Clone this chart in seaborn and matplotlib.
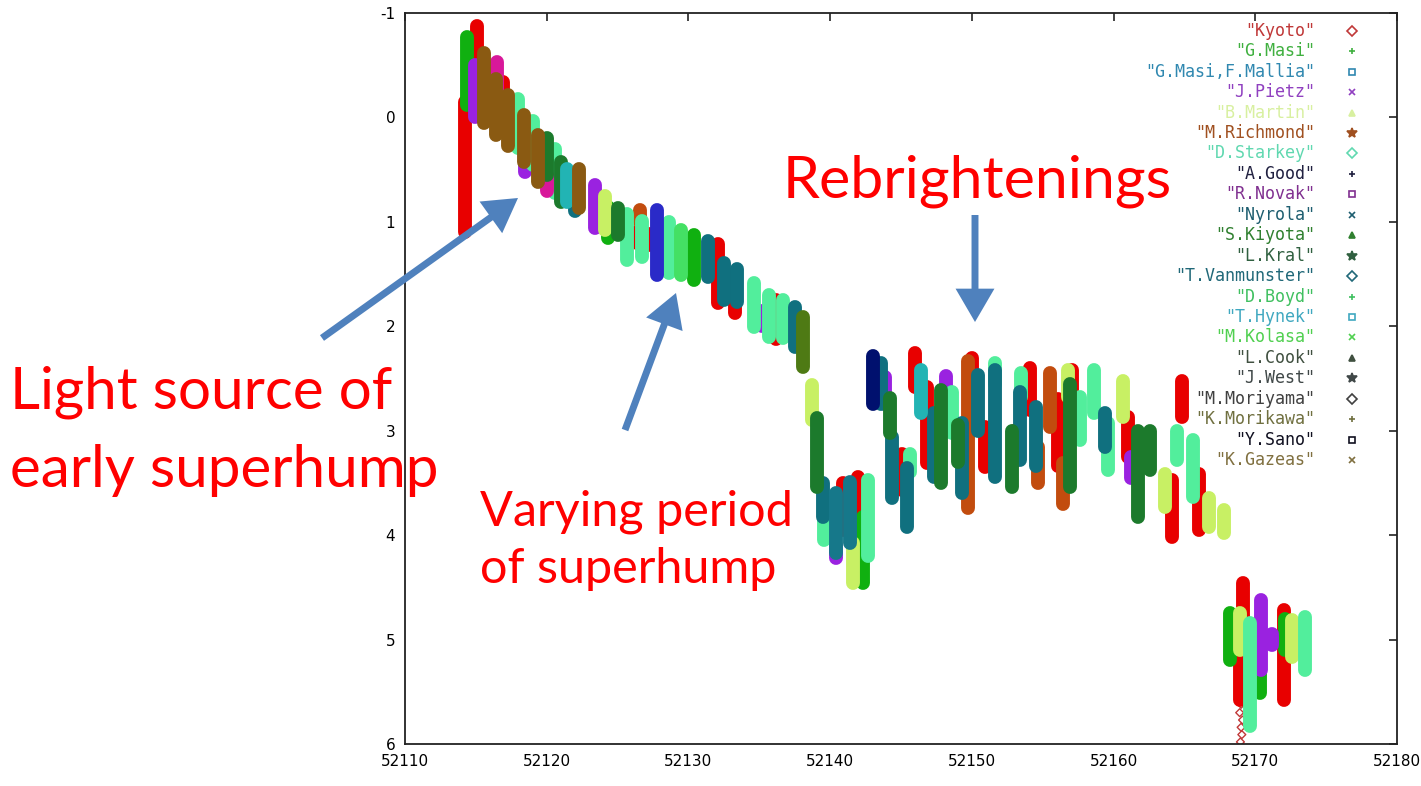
import matplotlib
matplotlib.use("Agg")
import matplotlib.pyplot as plt
from matplotlib.patches import FancyArrowPatch
import seaborn as sns
import pandas as pd

# ---------------- data ----------------
observers = ["Kyoto", "G.Masi", "G.Masi,F.Mallia", "J.Pietz", "B.Martin", "M.Richmond",
             "D.Starkey", "A.Good", "R.Novak", "Nyrola", "S.Kiyota", "L.Kral",
             "T.Vanmunster", "D.Boyd", "T.Hynek", "M.Kolasa", "L.Cook", "J.West",
             "M.Moriyama", "K.Morikawa", "Y.Sano", "K.Gazeas"]
legend_markers = ["D", "+", "s", "x", "^", "*", "D", "+", "s", "x", "^", "*",
                  "D", "+", "s", "x", "^", "*", "D", "+", "s", "x"]

# observing runs: time (JD-2400000), brightest and faintest magnitude, observer
run_day = [52114.2, 52114.4, 52114.95, 52115.1, 52115.6, 52116.5, 52116.4, 52116.9,
           52117.3, 52118.0, 52118.4, 52118.5, 52119.0, 52119.4, 52120.0, 52120.0,
           52120.6, 52121.0, 52121.4, 52122.0, 52122.3, 52123.4, 52124.1, 52124.3,
           52125.0, 52125.7, 52126.4, 52126.6, 52126.7, 52127.2, 52127.8, 52128.6,
           52129.5, 52130.4, 52131.4, 52132.1, 52132.5, 52133.3, 52133.4, 52134.6,
           52135.2, 52135.7, 52136.2, 52136.7, 52137.5, 52138.1,
           52138.7, 52139.1, 52139.5, 52139.6, 52140.4, 52140.4, 52140.9, 52141.4,
           52141.6, 52142.0, 52142.3, 52142.7,
           52143.0, 52143.6, 52143.9, 52144.2, 52144.4, 52145.1, 52145.4, 52145.6,
           52146.0, 52146.4, 52146.8, 52147.3, 52147.8, 52148.2, 52148.6, 52149.0,
           52149.3, 52149.7, 52150.0, 52150.4, 52150.9, 52151.6, 52151.6, 52152.8,
           52153.0, 52153.4, 52153.5, 52154.1, 52154.5, 52154.7, 52155.5, 52156.1,
           52156.4, 52156.8, 52156.9, 52157.1, 52157.6, 52158.6, 52159.4, 52159.6,
           52160.7, 52161.0, 52161.2, 52161.7, 52162.6, 52163.6, 52164.1, 52164.5,
           52164.8, 52165.6, 52166.0, 52166.7, 52167.8,
           52168.2, 52168.9, 52169.1, 52168.95, 52169.6, 52170.3, 52170.4, 52171.2,
           52172.0, 52172.1, 52172.6, 52173.5]
run_top = [-0.15, -0.77, -0.50, -0.88, -0.62, -0.53, -0.37, -0.34,
           -0.21, -0.18, -0.02, 0.40, 0.03, 0.17, 0.20, 0.55,
           0.30, 0.43, 0.49, 0.82, 0.49, 0.65, 0.75, 0.86,
           0.87, 0.92, 1.10, 0.89, 0.99, 1.12, 0.89, 1.00,
           1.08, 1.13, 1.18, 1.21, 1.39, 1.49, 1.45, 1.59,
           1.85, 1.70, 1.75, 1.75, 1.82, 1.91,
           2.56, 2.88, 3.50, 3.83, 3.60, 4.10, 3.50, 3.49,
           4.08, 3.44, 3.83, 3.47,
           2.28, 2.35, 2.49, 2.69, 3.06, 3.22, 3.36, 3.22,
           2.26, 2.42, 2.58, 2.83, 2.61, 2.48, 2.63, 2.95,
           2.93, 2.33, 2.30, 2.47, 2.96, 2.42, 2.35, 3.00,
           3.00, 2.63, 2.45, 2.40, 2.77, 3.16, 2.45, 2.70,
           3.31, 2.42, 2.55, 2.42, 2.68, 2.42, 2.83, 2.93,
           2.52, 2.87, 3.25, 3.00, 3.00, 3.41, 3.47, 3.00,
           2.52, 3.09, 3.41, 3.64, 3.76,
           4.75, 4.75, 4.46, 5.13, 4.84, 5.26, 4.62, 4.95,
           4.72, 4.80, 4.81, 4.78]
run_bot = [1.10, -0.12, 0.00, -0.30, 0.05, -0.12, 0.17, 0.10,
           0.27, 0.29, 0.43, 0.52, 0.46, 0.62, 0.55, 0.70,
           0.72, 0.81, 0.81, 0.90, 0.87, 1.06, 1.08, 1.15,
           1.13, 1.37, 1.20, 1.00, 1.34, 1.22, 1.51, 1.49,
           1.51, 1.56, 1.53, 1.78, 1.75, 1.87, 1.77, 2.01,
           2.00, 2.10, 2.12, 2.11, 2.20, 2.39,
           2.90, 3.54, 3.83, 4.05, 4.17, 4.22, 3.95, 4.08,
           4.46, 3.95, 4.46, 4.20,
           2.74, 2.74, 2.74, 3.02, 3.64, 3.57, 3.92, 3.40,
           2.58, 2.83, 3.31, 3.44, 3.50, 2.64, 3.02, 3.30,
           3.60, 3.74, 2.52, 3.00, 3.35, 3.44, 2.55, 3.54,
           3.30, 3.28, 2.68, 2.80, 3.34, 3.50, 2.96, 3.34,
           3.70, 2.68, 3.54, 2.65, 3.09, 2.83, 3.16, 3.38,
           2.87, 3.25, 3.45, 3.83, 3.38, 3.73, 4.02, 3.28,
           2.87, 3.63, 3.95, 3.92, 3.98,
           5.20, 5.10, 4.84, 5.58, 5.83, 5.51, 5.29, 5.05,
           5.58, 5.10, 5.17, 5.29]
run_obs = ["Kyoto", "G.Masi", "J.Pietz", "Kyoto", "M.Moriyama", "R.Novak", "M.Moriyama", "Kyoto",
           "M.Moriyama", "D.Starkey", "M.Moriyama", "J.Pietz", "D.Starkey", "M.Moriyama", "L.Kral", "R.Novak",
           "D.Starkey", "L.Kral", "T.Hynek", "Nyrola", "M.Moriyama", "J.Pietz", "B.Martin", "G.Masi",
           "L.Kral", "D.Starkey", "Kyoto", "M.Richmond", "D.Starkey", "Kyoto", "A.Good", "D.Starkey",
           "M.Kolasa", "G.Masi", "Nyrola", "Kyoto", "Nyrola", "Kyoto", "Nyrola", "D.Starkey",
           "J.Pietz", "D.Starkey", "Kyoto", "D.Starkey", "Nyrola", "K.Gazeas",
           "B.Martin", "L.Kral", "Nyrola", "D.Starkey", "T.Vanmunster", "J.Pietz", "Kyoto", "T.Vanmunster",
           "B.Martin", "Kyoto", "G.Masi", "D.Starkey",
           "Y.Sano", "Nyrola", "J.Pietz", "L.Kral", "Nyrola", "Kyoto", "Nyrola", "D.Starkey",
           "Kyoto", "T.Hynek", "Kyoto", "Nyrola", "L.Kral", "J.Pietz", "D.Starkey", "L.Kral",
           "Nyrola", "M.Richmond", "Kyoto", "Nyrola", "Kyoto", "Nyrola", "D.Starkey", "L.Kral",
           "Kyoto", "Nyrola", "D.Starkey", "Kyoto", "Nyrola", "M.Richmond", "M.Richmond", "Kyoto",
           "M.Richmond", "B.Martin", "L.Kral", "Kyoto", "D.Starkey", "D.Starkey", "Nyrola", "D.Starkey",
           "B.Martin", "Kyoto", "J.Pietz", "L.Kral", "L.Kral", "B.Martin", "Kyoto", "D.Starkey",
           "Kyoto", "D.Starkey", "Kyoto", "B.Martin", "B.Martin",
           "G.Masi", "B.Martin", "Kyoto", "Kyoto", "D.Starkey", "G.Masi", "J.Pietz", "J.Pietz",
           "Kyoto", "G.Masi", "B.Martin", "D.Starkey"]

# isolated faint Kyoto points below the last run
tail_day = [52169.0, 52168.9, 52169.1, 52169.0, 52169.05, 52168.95]
tail_mag = [5.62, 5.70, 5.77, 5.84, 5.91, 5.98]

x_ticks = [52110, 52120, 52130, 52140, 52150, 52160, 52170, 52180]
y_ticks = [-1, 0, 1, 2, 3, 4, 5, 6]

# ---------------- styles ----------------
point_colors = {
    "Kyoto": "#e80000", "G.Masi": "#10b010", "G.Masi,F.Mallia": "#2a90b8",
    "J.Pietz": "#9a22e0", "B.Martin": "#c8f064", "M.Richmond": "#c24c0e",
    "D.Starkey": "#52ee9c", "A.Good": "#2a2ac8", "R.Novak": "#d8189a",
    "Nyrola": "#10707f", "S.Kiyota": "#2a9a2a", "L.Kral": "#1c7a2c",
    "T.Vanmunster": "#16788a", "D.Boyd": "#40c060", "T.Hynek": "#22b4b4",
    "M.Kolasa": "#44e064", "L.Cook": "#405040", "J.West": "#404848",
    "M.Moriyama": "#8a5a12", "K.Morikawa": "#707040", "Y.Sano": "#00106e",
    "K.Gazeas": "#4e7a14",
}
label_colors = ["#c03838", "#40b040", "#3088b0", "#9040c0", "#d8f0a0", "#a05020",
                "#60d8b0", "#202040", "#803090", "#1e5e70", "#308030", "#306040",
                "#206878", "#40c060", "#40a8c0", "#50d050", "#405040", "#404848",
                "#404040", "#707040", "#101020", "#807040"]

W, H = 1421, 786
sns.set_style("white")
plt.rcParams["axes.unicode_minus"] = False
plt.rcParams["font.family"] = ["DejaVu Sans"]

fig = plt.figure(figsize=(W / 100, H / 100), dpi=100)
AX_L, AX_R, AX_T, AX_B = 405, 1397, 13, 744
ax = fig.add_axes([AX_L / W, 1 - AX_B / H, (AX_R - AX_L) / W, (AX_B - AX_T) / H])

runs = pd.DataFrame({"day": run_day, "top": run_top, "bot": run_bot, "observer": run_obs})
runs["run"] = range(len(runs))
long = runs.melt(id_vars=["run", "day", "observer"], value_vars=["top", "bot"],
                 var_name="end", value_name="mag")

sns.lineplot(data=long, x="day", y="mag", hue="observer", units="run",
             estimator=None, sort=False, hue_order=observers, palette=point_colors,
             linewidth=10, legend=False, ax=ax)
for ln in ax.lines:
    ln.set_solid_capstyle("round")

tail = pd.DataFrame({"day": tail_day, "mag": tail_mag})
sns.scatterplot(data=tail, x="day", y="mag", marker="D", s=16, facecolor="none",
                edgecolor="#c03838", linewidth=1.0, ax=ax, legend=False)

ax.set_xlim(52110, 52180)
ax.set_ylim(6, -1)
ax.set_xticks(x_ticks)
ax.set_yticks(y_ticks)
ax.set_xticklabels([str(v) for v in x_ticks])
ax.set_yticklabels([str(v) for v in y_ticks])
ax.set_xlabel("")
ax.set_ylabel("")
ax.tick_params(direction="in", length=6, width=1.2, color="#222222",
               top=True, right=True, labelsize=11, labelcolor="black", pad=7)
for s in ax.spines.values():
    s.set_visible(True)
    s.set_color("#222222")
    s.set_linewidth(1.3)

# legend drawn like the gnuplot key
def ax_xy(px, py):
    return (px - AX_L) / (AX_R - AX_L), (AX_B - py) / (AX_B - AX_T)

for i, (name, mk, lc) in enumerate(zip(observers, legend_markers, label_colors)):
    py = 30.7 + i * 20.45
    tx, ty = ax_xy(1315, py)
    ax.text(tx, ty, f'"{name}"', transform=ax.transAxes, ha="right", va="center",
            fontsize=12, family="DejaVu Sans Mono", color=lc)
    mx, my = ax_xy(1352, py)
    filled = mk in ("^", "*")
    ax.plot([mx], [my], marker=mk, transform=ax.transAxes, clip_on=False,
            ms=5 if mk != "*" else 7, mew=1.2, color=lc,
            mfc=lc if filled else "none", linestyle="none")

# annotations
def fig_xy(px, py):
    return px / W, 1 - py / H

red = "#ff0000"
fig.text(*fig_xy(10, 409), "Light source of", color=red, fontsize=42, family="Lato", va="baseline")
fig.text(*fig_xy(10, 487), "early superhump", color=red, fontsize=42, family="Lato", va="baseline")
fig.text(*fig_xy(480, 525), "Varying period", color=red, fontsize=35, family="Lato", va="baseline")
fig.text(*fig_xy(480, 583), "of superhump", color=red, fontsize=35, family="Lato", va="baseline")
fig.text(*fig_xy(783, 198), "Rebrightenings", color=red, fontsize=42.5, family="Lato", va="baseline")

blue = "#4f81bd"
for (x0, y0), (x1, y1) in [((322, 338), (518, 198)), ((625, 430), (676, 293)),
                           ((975, 215), (975, 322))]:
    arr = FancyArrowPatch(fig_xy(x0, y0), fig_xy(x1, y1), transform=fig.transFigure,
                          arrowstyle="simple,head_length=24,head_width=28,tail_width=5",
                          mutation_scale=1, shrinkA=0, shrinkB=0, color=blue, lw=0)
    fig.add_artist(arr)

fig.savefig("out.png", dpi=100, facecolor="white")
